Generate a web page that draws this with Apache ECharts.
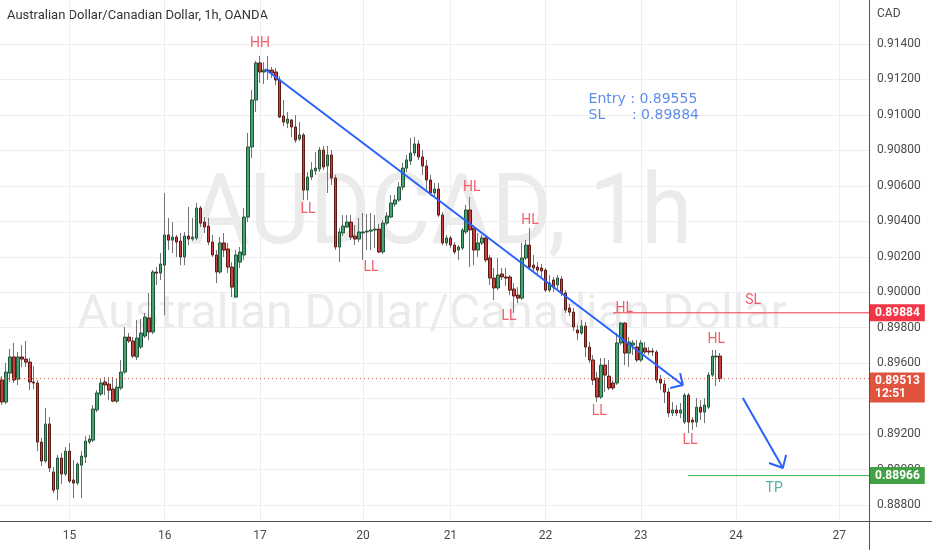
<!DOCTYPE html>
<html><head><meta charset="utf-8">
<script src="https://cdn.jsdelivr.net/npm/echarts@6/dist/echarts.min.js"></script>
<style>html,body{margin:0;padding:0;background:#fff}#c{width:932px;height:550px}</style>
</head><body><div id="c"></div>
<script>
// ---- data ----
const slotCount = 219; // hourly slots on the time scale (incl. empty future space)
const dayTicks = [[17,'15'],[41,'16'],[65,'17'],[91,'20'],[113,'21'],[137,'22'],[161,'23'],[185,'24'],[211,'27']];
const priceTicks = [0.888,0.890,0.892,0.894,0.896,0.898,0.900,0.902,0.904,0.906,0.908,0.910,0.912,0.914];
const yMin = 0.88710, yMax = 0.91648;

const opens = [0.89505,0.89381,0.89544,0.89635,0.89510,0.89635,0.89623,0.89606,0.89494,0.89488,
0.89155,0.89048,0.89257,0.88986,0.88890,0.89065,0.88975,0.89104,0.88941,0.88924,
0.89025,0.89071,0.89155,0.89166,0.89336,0.89426,0.89494,0.89482,0.89454,0.89386,
0.89460,0.89550,0.89747,0.89725,0.89635,0.89691,0.89753,0.89855,0.89776,0.90114,
0.90108,0.90153,0.90323,0.90294,0.90311,0.90289,0.90199,0.90317,0.90300,0.90306,
0.90475,0.90396,0.90373,0.90283,0.90210,0.90114,0.90278,0.90244,0.90142,0.89973,
0.90170,0.90210,0.90424,0.90819,0.91084,0.91293,0.91242,0.91253,0.91253,0.91242,
0.91197,0.90994,0.90954,0.90971,0.90932,0.90864,0.90887,0.90576,0.90650,0.90684,
0.90695,0.90802,0.90712,0.90774,0.90644,0.90255,0.90334,0.90368,0.90396,0.90317,
0.90300,0.90334,0.90340,0.90345,0.90351,0.90356,0.90227,0.90390,0.90424,0.90497,
0.90520,0.90593,0.90700,0.90740,0.90785,0.90836,0.90763,0.90712,0.90633,0.90560,
0.90582,0.90435,0.90278,0.90306,0.90266,0.90238,0.90249,0.90340,0.90464,0.90362,
0.90238,0.90278,0.90306,0.90193,0.90080,0.90024,0.90103,0.90086,0.90086,0.90018,
0.89984,0.89967,0.90193,0.90266,0.90153,0.90142,0.90137,0.90125,0.90012,0.90069,
0.90041,0.90074,0.89996,0.89911,0.89888,0.89787,0.89770,0.89809,0.89691,0.89618,
0.89516,0.89409,0.89589,0.89527,0.89488,0.89488,0.89714,0.89826,0.89657,0.89702,
0.89691,0.89618,0.89685,0.89668,0.89668,0.89663,0.89510,0.89482,0.89437,0.89319,
0.89336,0.89319,0.89268,0.89420,0.89279,0.89268,0.89352,0.89324,0.89352,0.89533,
0.89635,0.89640];
const closes = [0.89381,0.89550,0.89635,0.89505,0.89635,0.89623,0.89606,0.89494,0.89488,0.89155,
0.89048,0.89257,0.89009,0.88884,0.89065,0.88975,0.89104,0.88935,0.88924,0.89031,
0.89076,0.89161,0.89172,0.89341,0.89432,0.89488,0.89477,0.89448,0.89386,0.89465,
0.89550,0.89747,0.89725,0.89640,0.89742,0.89770,0.89860,0.89776,0.90114,0.90108,
0.90159,0.90323,0.90294,0.90311,0.90283,0.90199,0.90317,0.90300,0.90311,0.90475,
0.90390,0.90368,0.90283,0.90210,0.90114,0.90278,0.90238,0.90142,0.90029,0.90210,
0.90227,0.90424,0.90819,0.91084,0.91293,0.91242,0.91253,0.91248,0.91236,0.91197,
0.90988,0.90960,0.90977,0.90932,0.90858,0.90887,0.90576,0.90650,0.90689,0.90700,
0.90802,0.90706,0.90774,0.90644,0.90255,0.90340,0.90373,0.90396,0.90311,0.90300,
0.90340,0.90340,0.90345,0.90351,0.90356,0.90227,0.90390,0.90430,0.90503,0.90520,
0.90593,0.90700,0.90746,0.90785,0.90836,0.90763,0.90712,0.90633,0.90560,0.90582,
0.90435,0.90278,0.90306,0.90266,0.90227,0.90255,0.90351,0.90464,0.90351,0.90238,
0.90278,0.90306,0.90182,0.90080,0.90024,0.90097,0.90086,0.90080,0.90012,0.89979,
0.89967,0.90193,0.90266,0.90142,0.90137,0.90125,0.90120,0.90012,0.90052,0.90029,
0.90080,0.89996,0.89900,0.89888,0.89804,0.89770,0.89809,0.89691,0.89618,0.89505,
0.89409,0.89589,0.89533,0.89460,0.89460,0.89714,0.89826,0.89657,0.89719,0.89714,
0.89618,0.89714,0.89663,0.89663,0.89663,0.89505,0.89488,0.89437,0.89319,0.89336,
0.89319,0.89336,0.89420,0.89268,0.89268,0.89352,0.89324,0.89364,0.89533,0.89640,
0.89640,0.89513];
const lows = [0.89364,0.89369,0.89494,0.89488,0.89477,0.89578,0.89578,0.89448,0.89454,0.89104,
0.89020,0.89037,0.88986,0.88868,0.88828,0.88918,0.88963,0.88924,0.88839,0.88913,
0.88839,0.89037,0.89144,0.89155,0.89324,0.89415,0.89420,0.89392,0.89381,0.89375,
0.89448,0.89539,0.89714,0.89629,0.89618,0.89680,0.89742,0.89730,0.89764,0.90041,
0.90069,0.89871,0.90238,0.90221,0.90199,0.90153,0.90153,0.90266,0.90289,0.90294,
0.90368,0.90334,0.90266,0.90199,0.90052,0.90103,0.90199,0.90108,0.89973,0.89967,
0.90137,0.90182,0.90396,0.90757,0.91016,0.91180,0.91174,0.91197,0.91208,0.91169,
0.90982,0.90937,0.90926,0.90875,0.90842,0.90853,0.90520,0.90520,0.90633,0.90661,
0.90678,0.90689,0.90560,0.90605,0.90238,0.90170,0.90317,0.90362,0.90294,0.90266,
0.90283,0.90182,0.90238,0.90238,0.90249,0.90221,0.90215,0.90379,0.90419,0.90481,
0.90509,0.90576,0.90678,0.90717,0.90768,0.90746,0.90661,0.90576,0.90543,0.90543,
0.90424,0.90266,0.90261,0.90249,0.90215,0.90182,0.90238,0.90328,0.90142,0.90153,
0.90199,0.90266,0.90170,0.90041,0.89956,0.90012,0.90069,0.90035,0.89984,0.89883,
0.89939,0.89956,0.90182,0.90125,0.90114,0.90097,0.90080,0.90001,0.90001,0.90001,
0.90018,0.89979,0.89883,0.89866,0.89781,0.89730,0.89759,0.89635,0.89601,0.89477,
0.89381,0.89398,0.89437,0.89448,0.89448,0.89477,0.89702,0.89589,0.89578,0.89646,
0.89606,0.89606,0.89651,0.89646,0.89640,0.89488,0.89448,0.89375,0.89296,0.89302,
0.89302,0.89290,0.89257,0.89206,0.89223,0.89240,0.89279,0.89262,0.89341,0.89522,
0.89471,0.89494];
const highs = [0.89527,0.89601,0.89680,0.89714,0.89663,0.89702,0.89725,0.89629,0.89584,0.89505,
0.89178,0.89347,0.89296,0.89014,0.89082,0.89093,0.89127,0.89150,0.89054,0.89042,
0.89104,0.89189,0.89195,0.89364,0.89448,0.89516,0.89522,0.89522,0.89522,0.89516,
0.89618,0.89804,0.89770,0.89747,0.89843,0.89849,0.89883,0.89996,0.90125,0.90142,
0.90221,0.90560,0.90419,0.90396,0.90323,0.90334,0.90340,0.90481,0.90419,0.90503,
0.90486,0.90424,0.90419,0.90323,0.90238,0.90311,0.90334,0.90278,0.90170,0.90238,
0.90255,0.90475,0.90898,0.91140,0.91304,0.91332,0.91298,0.91332,0.91270,0.91264,
0.91219,0.91084,0.91016,0.90977,0.90999,0.90960,0.90898,0.90678,0.90734,0.90791,
0.90819,0.90825,0.90825,0.90802,0.90661,0.90362,0.90435,0.90435,0.90435,0.90379,
0.90419,0.90447,0.90441,0.90447,0.90435,0.90385,0.90407,0.90452,0.90548,0.90548,
0.90622,0.90729,0.90774,0.90870,0.90875,0.90858,0.90802,0.90746,0.90661,0.90616,
0.90616,0.90452,0.90323,0.90317,0.90283,0.90266,0.90362,0.90492,0.90537,0.90379,
0.90334,0.90323,0.90317,0.90210,0.90137,0.90193,0.90137,0.90137,0.90097,0.90052,
0.90029,0.90278,0.90294,0.90362,0.90210,0.90170,0.90159,0.90137,0.90097,0.90086,
0.90097,0.90091,0.90012,0.89933,0.89911,0.89815,0.89843,0.89832,0.89719,0.89646,
0.89550,0.89629,0.89629,0.89618,0.89505,0.89770,0.89832,0.89832,0.89747,0.89730,
0.89730,0.89730,0.89719,0.89691,0.89685,0.89674,0.89533,0.89505,0.89460,0.89381,
0.89364,0.89375,0.89432,0.89432,0.89296,0.89403,0.89392,0.89403,0.89550,0.89674,
0.89674,0.89657];

// levels & drawings (x in slot index, y in price)
const lastPrice = 0.89513, lastCountdown = '12:51';
const slLevel = 0.89884, slStart = 154.0;
const tpLevel = 0.88966, tpStart = 172.9;
const entryNote = {x: 147.7, y: 0.91045, text: 'Entry : 0.89555\nSL      : 0.89884'};
const trendArrow = [[66.3,0.91259],[171.6,0.89477],[170.9,0.89544],[171.6,0.89477],[168.4,0.89460]];
const downArrow  = [[186.7,0.89403],[196.8,0.89009],[197.6,0.89082],[196.8,0.89009],[193.3,0.89037]];
const pivotLabels = [['HH',65.0,0.91400],['LL',77.1,0.90469],['LL',93.0,0.90137],['HL',118.4,0.90588],
  ['HL',133.1,0.90407],['LL',127.8,0.89866],['HL',156.8,0.89911],['LL',150.5,0.89330],
  ['HL',180.0,0.89736],['LL',173.4,0.89166]];
const levelLabels = [['SL',189.3,0.89956,'#f23645'],['TP',194.6,0.88896,'#1f9e89']];

// ---- chart ----
const FONT = 'Roboto, "Noto Sans", sans-serif';
const dayAt = Object.fromEntries(dayTicks);
const isDay = (i) => Object.prototype.hasOwnProperty.call(dayAt, i);
const categories = Array.from({length: slotCount}, (_, i) => 'h' + i);
const wickData = opens.map((o, i) => [o, closes[i], lows[i], highs[i]]);
const bodyData = opens.map((o, i) => [o, closes[i], Math.min(o, closes[i]), Math.max(o, closes[i])]);
const xEnd = slotCount - 0.5;

function levelSeries(level, start, color, lineColor, dash, text, offset) {
  return {
    type: 'line', xAxisIndex: 1, data: [[start, level], [xEnd, level]], showSymbol: false, symbol: 'none',
    z: 4, silent: true, clip: false, color: lineColor,
    lineStyle: {color: lineColor, type: dash, width: 1, opacity: 1},
    endLabel: {show: true, formatter: text, distance: 1, backgroundColor: color, color: '#fff',
      fontWeight: 'bold', fontSize: 12, fontFamily: FONT, lineHeight: 13, padding: [2, 5, 2, 5],
      offset: offset || [0, 0], align: 'left', verticalAlign: 'middle'}
  };
}

const chart = echarts.init(document.getElementById('c'), null, {renderer: 'canvas'});
chart.setOption({
  animation: false,
  backgroundColor: '#ffffff',
  grid: {left: 0, right: 63, top: 0, bottom: 29, containLabel: false},
  xAxis: [{
    type: 'category', data: categories, boundaryGap: true,
    axisLine: {show: false}, axisTick: {show: false},
    axisLabel: {interval: (i) => isDay(i), formatter: (v, i) => dayAt[i] || '', color: '#4a4a4a',
      fontSize: 12, fontFamily: FONT, margin: 9},
    splitLine: {show: true, interval: (i) => isDay(i), alignWithLabel: true, lineStyle: {color: '#eeeef1', width: 1}}
  }, {
    type: 'value', min: -0.5, max: xEnd, show: false
  }],
  yAxis: {
    type: 'value', position: 'right', min: yMin, max: yMax, scale: true,
    axisLine: {show: false},
    axisTick: {show: false, customValues: priceTicks},
    axisLabel: {customValues: priceTicks, formatter: (v) => v.toFixed(5), color: '#4a4a4a',
      fontSize: 12, fontFamily: FONT, margin: 8},
    splitLine: {show: true, lineStyle: {color: '#eeeef1', width: 1}}
  },
  series: [{
    type: 'candlestick', name: 'wicks', data: wickData, barWidth: 1, z: 2, silent: true,
    itemStyle: {color: '#737375', color0: '#737375', borderColor: '#737375', borderColor0: '#737375', borderWidth: 1}
  }, {
    type: 'candlestick', name: 'bodies', data: bodyData, barWidth: 3, z: 3, silent: true,
    itemStyle: {color: '#46a374', color0: '#c8413f', borderColor: '#225437', borderColor0: '#5b1a13', borderWidth: 1}
  },
  levelSeries(lastPrice, -0.5, '#e0533f', '#e0533f', [1, 3], lastPrice.toFixed(5) + '\n' + lastCountdown, [0, 9]),
  levelSeries(slLevel, slStart, '#f23645', '#f23645', 'solid', slLevel.toFixed(5)),
  levelSeries(tpLevel, tpStart, '#43a047', '#2fb344', 'solid', tpLevel.toFixed(5)),
  {
    type: 'line', xAxisIndex: 1, data: trendArrow, showSymbol: false, z: 5, silent: true,
    lineStyle: {color: '#2962ff', width: 2}
  }, {
    type: 'line', xAxisIndex: 1, data: downArrow, showSymbol: false, z: 5, silent: true,
    lineStyle: {color: '#2962ff', width: 2}
  }, {
    type: 'scatter', xAxisIndex: 1, symbolSize: 1, z: 6, silent: true,
    itemStyle: {color: 'rgba(0,0,0,0)'},
    data: pivotLabels.map(d => ({name: d[0], value: [d[1], d[2]]})),
    label: {show: true, position: 'inside', formatter: '{b}', color: '#f23645', fontSize: 14, fontFamily: FONT}
  }, {
    type: 'scatter', xAxisIndex: 1, symbolSize: 1, z: 6, silent: true,
    itemStyle: {color: 'rgba(0,0,0,0)'},
    data: levelLabels.map(d => ({name: d[0], value: [d[1], d[2]], label: {color: d[3]}})),
    label: {show: true, position: 'inside', formatter: '{b}', fontSize: 14, fontFamily: FONT}
  }, {
    type: 'scatter', xAxisIndex: 1, symbolSize: 1, z: 6, silent: true,
    itemStyle: {color: 'rgba(0,0,0,0)'},
    data: [{name: entryNote.text, value: [entryNote.x, entryNote.y]}],
    label: {show: true, position: 'right', distance: 0, align: 'left', formatter: '{b}', color: '#3572e0',
      fontSize: 14, lineHeight: 16, fontFamily: '"DejaVu Sans", sans-serif'}
  }],
  graphic: [
    {type: 'text', z: -10, x: 441, y: 169, scaleX: 0.947, style: {text: 'AUDCAD, 1h', font: '98px Roboto', fill: '#ebebeb', align: 'center', verticalAlign: 'top'}},
    {type: 'text', z: -10, x: 432, y: 292, style: {text: 'Australian Dollar/Canadian Dollar', font: '48px Roboto', fill: '#ebebeb', align: 'center', verticalAlign: 'top'}},
    {type: 'text', left: 7, top: 9, style: {text: 'Australian Dollar/Canadian Dollar, 1h, OANDA', font: '13px Roboto', fill: '#333333'}},
    {type: 'text', left: 877, top: 8, style: {text: 'CAD', font: '12px Roboto', fill: '#4a4a4a'}},
    {type: 'line', shape: {x1: 869.5, y1: 0, x2: 869.5, y2: 550}, style: {stroke: '#50535e', lineWidth: 1}},
    {type: 'line', shape: {x1: 0, y1: 521.5, x2: 932, y2: 521.5}, style: {stroke: '#50535e', lineWidth: 1}}
  ]
});
</script></body></html>
